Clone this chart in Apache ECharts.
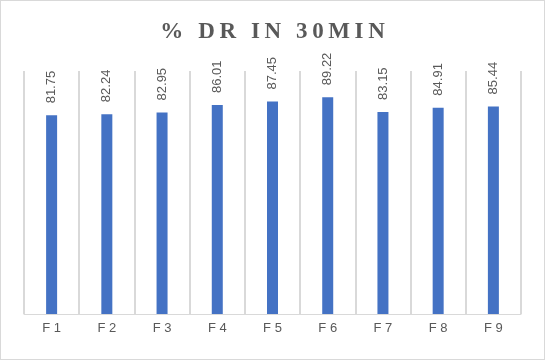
<!DOCTYPE html>
<html><head><meta charset="utf-8">
<script src="https://cdn.jsdelivr.net/npm/echarts@6/dist/echarts.min.js"></script>
<style>
html,body{margin:0;padding:0;background:#fff;}
#c{position:absolute;left:0;top:0;width:543px;height:358px;border:1px solid #d9d9d9;}
</style></head>
<body><div id="c"></div>
<script>
const categories = ['F1','F2','F3','F4','F5','F6','F7','F8','F9'];
const values = [81.75, 82.24, 82.95, 86.01, 87.45, 89.22, 83.15, 84.91, 85.44];
const titleText = '% DR IN 30MIN';

const spaced = s => s.split('').join('\u2009');
const chart = echarts.init(document.getElementById('c'), null, {renderer:'canvas'});
chart.setOption({
  animation:false,
  title:{text:spaced(titleText),left:'center',top:15,
    textStyle:{fontFamily:'Liberation Serif',fontWeight:'bold',fontSize:23,color:'#595959'}},
  grid:{left:23,right:23,top:70,bottom:45},
  xAxis:{type:'category',data:categories,
    axisLine:{lineStyle:{color:'#d9d9d9',width:1}},
    axisTick:{show:false},
    splitLine:{show:true,lineStyle:{color:'#d9d9d9',width:2}},
    axisLabel:{color:'#595959',fontSize:13,fontFamily:'Liberation Sans',margin:8,
      formatter:v=>v.split('').join(' ')}},
  yAxis:{type:'value',min:0,max:100,show:false,splitLine:{show:false}},
  series:[{type:'bar',data:values,barWidth:11,
    itemStyle:{color:'#4472C4'},
    label:{show:true,position:'top',rotate:90,align:'left',verticalAlign:'middle',distance:12,
      color:'#595959',fontSize:13,fontFamily:'Liberation Sans',
      formatter:p=>p.value.toFixed(2)}}]
});
</script></body></html>
